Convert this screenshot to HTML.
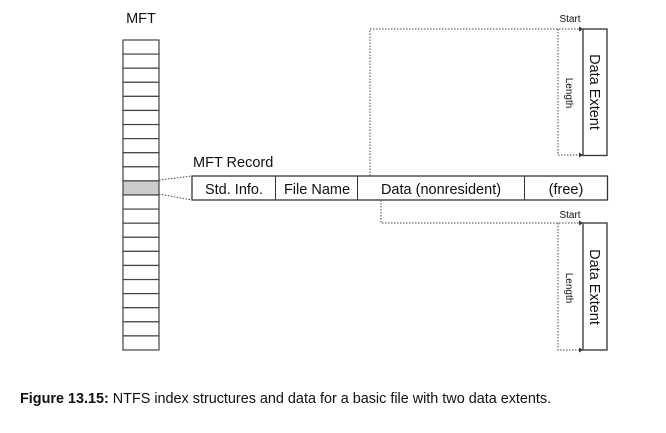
<!DOCTYPE html>
<html><head><meta charset="utf-8"><style>
body{margin:0;background:#fff;width:666px;height:428px;overflow:hidden}
svg text{font-family:"Liberation Sans",sans-serif;fill:#111}
</style></head><body>
<svg width="666" height="428" viewBox="0 0 666 428">
<text x="141" y="23" font-size="14.5" text-anchor="middle">MFT</text>
<g id="mft" stroke="#444" stroke-width="1.2" fill="none"></g>
<g stroke="#444" stroke-width="1" stroke-dasharray="1.5,1.5" fill="none">
<line x1="159" y1="180" x2="192" y2="176"/>
<line x1="159" y1="194" x2="192" y2="200"/>
</g>
<text x="193" y="167" font-size="14.5">MFT Record</text>
<g>
<rect x="192" y="176" width="415.5" height="24" fill="none" stroke="#333" stroke-width="1.3"/>
<line x1="275.5" y1="176" x2="275.5" y2="200" stroke="#333" stroke-width="1"/>
<line x1="357.5" y1="176" x2="357.5" y2="200" stroke="#333" stroke-width="1"/>
<line x1="524.5" y1="176" x2="524.5" y2="200" stroke="#333" stroke-width="1"/>
<text x="234" y="194" font-size="14.5" text-anchor="middle">Std. Info.</text>
<text x="317" y="194" font-size="14.5" text-anchor="middle">File Name</text>
<text x="441" y="194" font-size="14.5" text-anchor="middle">Data (nonresident)</text>
<text x="566" y="194" font-size="14.5" text-anchor="middle">(free)</text>
</g>
<g stroke="#444" stroke-width="1" stroke-dasharray="1.5,1.5" fill="none">
<polyline points="370,176 370,29 579,29"/>
<polyline points="558,29 558,155 579,155"/>
<polyline points="381,200 381,223 579,223"/>
<polyline points="558,223 558,350 579,350"/>
</g>
<g fill="#333">
<polygon points="579,26.5 583,29 579,31.5"/><polygon points="579,152.5 583,155 579,157.5"/>
<polygon points="579,220.5 583,223 579,225.5"/><polygon points="579,347.5 583,350 579,352.5"/>
</g>
<text x="570" y="22" font-size="10" text-anchor="middle">Start</text>
<text x="570" y="218" font-size="10" text-anchor="middle">Start</text>
<text transform="translate(566,93) rotate(90)" font-size="10" text-anchor="middle">Length</text>
<text transform="translate(566,288) rotate(90)" font-size="10" text-anchor="middle">Length</text>
<rect x="583" y="29" width="24" height="126.5" fill="none" stroke="#333" stroke-width="1.3"/>
<rect x="583" y="223" width="24" height="127" fill="none" stroke="#333" stroke-width="1.3"/>
<text transform="translate(590,92) rotate(90)" font-size="14.5" text-anchor="middle">Data Extent</text>
<text transform="translate(590,287) rotate(90)" font-size="14.5" text-anchor="middle">Data Extent</text>
<text x="20" y="403" font-size="14.4"><tspan font-weight="bold">Figure 13.15:</tspan> NTFS index structures and data for a basic file with two data extents.</text>
</svg>
<script>
const rows = 22;
const shadedRow = 10;
const g = document.getElementById('mft');
const ns = 'http://www.w3.org/2000/svg';
const top0 = 40, h = 310 / rows;
for (let i = 0; i < rows; i++) {
  const r = document.createElementNS(ns, 'rect');
  r.setAttribute('x', 123); r.setAttribute('y', top0 + i * h);
  r.setAttribute('width', 36); r.setAttribute('height', h);
  r.setAttribute('fill', i === shadedRow ? '#ccc' : '#fff');
  
  
  g.appendChild(r);
}
</script>
</body></html>
